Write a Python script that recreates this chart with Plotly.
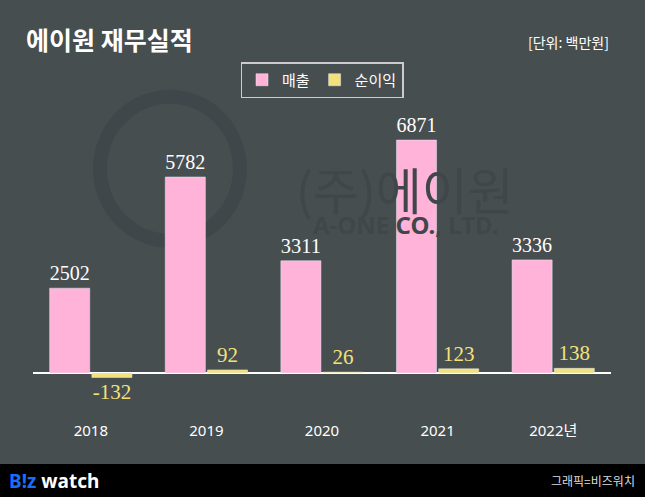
import plotly.graph_objects as go

years = ["2018", "2019", "2020", "2021", "2022년"]
sales = [2502, 5782, 3311, 6871, 3336]
profit = [-132, 92, 26, 123, 138]

bg = "#474e50"
pink = "#ffb3d9"
yellow = "#f3e17c"
wm = "#40474a"
sans = "Noto Sans, Noto Sans CJK KR"

fig = go.Figure()
fig.add_bar(x=years, y=sales, name="매출", marker_color=pink,
            text=[str(v) for v in sales], textposition="outside",
            textfont=dict(family="Liberation Serif", size=21, color="white"), cliponaxis=False)
fig.add_bar(x=years, y=profit, name="순이익", marker_color=yellow,
            text=[str(v) for v in profit], textposition="outside",
            textfont=dict(family="Liberation Serif", size=21, color=yellow), cliponaxis=False)

# faint watermark (logo circle below the bars)
fig.add_shape(type="circle", xref="paper", yref="paper", x0=0.116, x1=0.358, y0=0.56, y1=1.01,
              line=dict(color=wm, width=14), layer="below")
fig.add_annotation(text="(주)에이원", xref="paper", yref="paper", x=0.644, y=0.845, showarrow=False,
                   font=dict(family="Noto Sans CJK KR", size=50, color=wm))
fig.add_annotation(text="<b>A-ONE CO., LTD.</b>", xref="paper", yref="paper", x=0.644, y=0.67, showarrow=False,
                   font=dict(family="Noto Sans", size=24, color=wm))

fig.add_annotation(text="<b>에이원 재무실적</b>", xref="paper", yref="paper", x=-0.015, y=1.19,
                   xanchor="left", yanchor="middle", showarrow=False,
                   font=dict(family="Noto Sans CJK KR", size=25, color="white"))
fig.add_annotation(text="[단위: 백만원]", xref="paper", yref="paper", x=1.0, y=1.18,
                   xanchor="right", yanchor="middle", showarrow=False,
                   font=dict(family="Noto Sans CJK KR", size=14, color="white"))

# footer
fig.add_shape(type="rect", xref="paper", yref="paper", x0=-0.06, x1=1.06, y0=-0.1375, y1=-0.25,
              fillcolor="black", line_width=0)
fig.add_annotation(text="<b><span style='color:#1a6cff'>B!z</span> watch</b>", xref="paper", yref="paper",
                   x=-0.045, y=-0.19, xanchor="left", yanchor="middle", showarrow=False,
                   font=dict(family="Noto Sans", size=19, color="white"))
fig.add_annotation(text="그래픽=비즈워치", xref="paper", yref="paper", x=1.045, y=-0.19,
                   xanchor="right", yanchor="middle", showarrow=False,
                   font=dict(family="Noto Sans CJK KR", size=12, color="#dddddd"))

fig.update_layout(
    width=645, height=497, paper_bgcolor=bg, plot_bgcolor=bg,
    margin=dict(l=33, r=34, t=100, b=77),
    barmode="group", bargap=0.27, bargroupgap=0.05,
    legend=dict(orientation="h", x=0.5, xanchor="center", y=1.0625, yanchor="middle",
                bordercolor="#cccccc", borderwidth=1.5,
                font=dict(family="Noto Sans CJK KR", size=15, color="white")),
    xaxis=dict(showgrid=False, tickfont=dict(family=sans, size=15, color="white"), ticks=""),
    yaxis=dict(range=[-1386, 8053], showgrid=False, showticklabels=False,
               zeroline=True, zerolinecolor="white", zerolinewidth=1.5),
    showlegend=True,
)
fig.write_html("out.html", config={"displayModeBar": False},
               post_script="document.body.style.margin='0';")
